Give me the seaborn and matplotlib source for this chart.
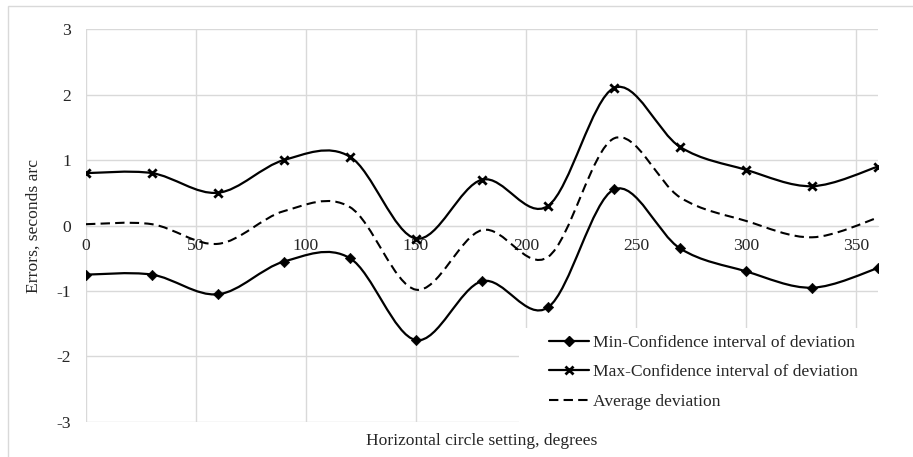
import numpy as np
import pandas as pd
import matplotlib
matplotlib.use('Agg')
import matplotlib.pyplot as plt
import seaborn as sns
from matplotlib.path import Path
from matplotlib.patches import PathPatch, Rectangle
from matplotlib.lines import Line2D

# data
angles = [0, 30, 60, 90, 120, 150, 180, 210, 240, 270, 300, 330, 360]
max_ci = [0.8, 0.8, 0.5, 1.0, 1.05, -0.2, 0.7, 0.3, 2.1, 1.2, 0.85, 0.6, 0.9]
min_ci = [-0.75, -0.75, -1.05, -0.55, -0.5, -1.75, -0.85, -1.25, 0.55, -0.35, -0.7, -0.95, -0.65]
avg_dev = [0.02, 0.02, -0.28, 0.22, 0.28, -0.98, -0.07, -0.48, 1.33, 0.43, 0.07, -0.18, 0.12]

x_ticks = [0, 50, 100, 150, 200, 250, 300, 350]
y_ticks = [-3, -2, -1, 0, 1, 2, 3]

labels = ['Min-Confidence interval of deviation',
          'Max-Confidence interval of deviation',
          'Average deviation']

df = pd.DataFrame({'angle': angles, 'max': max_ci, 'min': min_ci, 'avg': avg_dev})

sns.set_style('white')
plt.rcParams['font.family'] = ['Liberation Serif', 'DejaVu Serif']
plt.rcParams['font.size'] = 12.5

GRID = '#d9d9d9'
FS = 12.6


def smooth_path(xs, ys):
    # excel-like smoothed line: cubic bezier through the points (catmull-rom)
    pts = np.column_stack([xs, ys]).astype(float)
    n = len(pts)
    verts = [pts[0]]
    codes = [Path.MOVETO]
    for i in range(n - 1):
        p0 = pts[max(i - 1, 0)]
        p1 = pts[i]
        p2 = pts[i + 1]
        p3 = pts[min(i + 2, n - 1)]
        c1 = p1 + (p2 - p0) / 6.0
        c2 = p2 - (p3 - p1) / 6.0
        verts += [c1, c2, p2]
        codes += [Path.CURVE4] * 3
    return Path(verts, codes)


fig = plt.figure(figsize=(9.13, 4.57), dpi=100)
ax = fig.add_axes([0.0942, 0.0766, 0.8675, 0.8599])

ax.add_patch(PathPatch(smooth_path(df['angle'], df['min']), fill=False,
                       edgecolor='black', lw=1.6, zorder=3))
ax.add_patch(PathPatch(smooth_path(df['angle'], df['max']), fill=False,
                       edgecolor='black', lw=1.6, zorder=3))
ax.add_patch(PathPatch(smooth_path(df['angle'], df['avg']), fill=False,
                       edgecolor='black', lw=1.5, linestyle=(0, (4.5, 2.5)), zorder=3))

sns.scatterplot(data=df, x='angle', y='min', marker='D', s=28, color='black',
                edgecolor='black', ax=ax, zorder=4, legend=False)
sns.scatterplot(data=df, x='angle', y='max', marker='x', s=36, color='black',
                linewidth=2, ax=ax, zorder=4, legend=False)

ax.set_xlim(0, 360)
ax.set_ylim(-3, 3)
ax.set_xticks(x_ticks)
ax.set_yticks(y_ticks)
ax.set_xticklabels([str(v) for v in x_ticks])
ax.set_yticklabels([str(v) for v in y_ticks])
ax.grid(True, color=GRID, lw=1.0)
ax.set_axisbelow(True)

for s in ['top', 'right', 'left']:
    ax.spines[s].set_visible(False)
ax.spines['bottom'].set_position(('data', 0))
ax.spines['bottom'].set_color(GRID)
ax.tick_params(axis='x', length=0, pad=9, labelsize=FS)
ax.tick_params(axis='y', length=0, pad=11, labelsize=FS)

ax.set_xlabel('Horizontal circle setting, degrees', fontsize=FS)
ax.set_ylabel('Errors, seconds arc', fontsize=FS)
ax.xaxis.set_label_coords(0.5, -0.027)
ax.yaxis.set_label_coords(-0.056, 0.5)

# white area behind legend hides the grid
ax.add_patch(Rectangle((0.547, 0.0), 0.453, 0.239, transform=ax.transAxes,
                       facecolor='white', edgecolor='none', zorder=2))

handles = [
    Line2D([], [], color='black', lw=1.6, marker='D', markersize=5),
    Line2D([], [], color='black', lw=1.6, marker='x', markersize=6, markeredgewidth=2),
    Line2D([], [], color='black', lw=1.5, linestyle=(0, (4.5, 2.5))),
]
leg = ax.legend(handles, labels, loc='lower right', bbox_to_anchor=(0.99, 0.0),
                frameon=False, fontsize=FS, handlelength=2.3, handletextpad=0.2,
                labelspacing=0.75, borderaxespad=0.3)
leg.set_zorder(5)

# outer chart border (cropped on right and bottom in the reference)
fig.patches.append(Rectangle((8 / 913, -0.2), 2.0, 0.2 + 451 / 457,
                             transform=fig.transFigure, facecolor='none',
                             edgecolor=GRID, lw=1.0))

fig.savefig('out.png', dpi=100)
